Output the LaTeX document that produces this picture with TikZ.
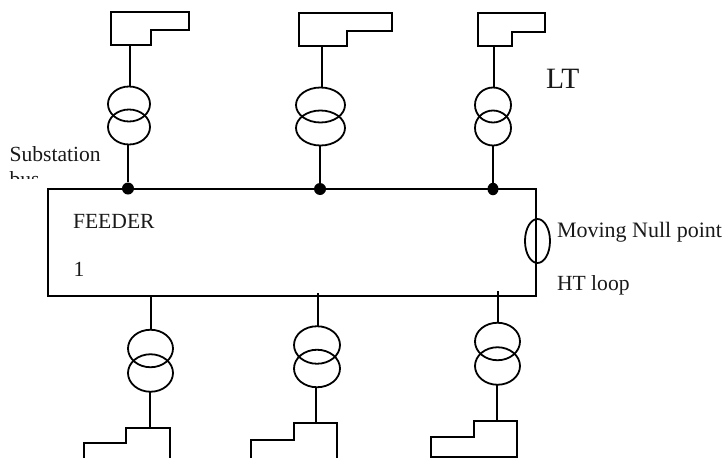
\documentclass[tikz,border=0pt]{standalone}
\usepackage{fontspec}
\setmainfont{Liberation Serif}
\usetikzlibrary{shapes.geometric}
\tikzset{
  x=1pt,y=-1pt,
  wire/.style={line width=1.9pt,line join=miter},
  coil/.style={ellipse,draw,line width=1.8pt,inner sep=0pt,outer sep=0pt},
  tap/.style={circle,fill=black,draw=none,inner sep=0pt,minimum width=12pt},
  lbl/.style={anchor=base west,inner sep=0pt,outer sep=0pt,text=black!90,font=\fontsize{21.6}{24}\selectfont},
}
\begin{document}
\begin{tikzpicture}
\useasboundingbox (0,0) rectangle (726,458);
\clip (0,0) rectangle (726,458);
% feeder
\node[draw,wire,inner sep=0pt,outer sep=0pt,minimum width=488pt,minimum height=107pt] (feeder) at (292,242.5) {};
% tap dots
\node[tap] (d1) at (128,188.5) {};
\node[tap] (d2) at (320,189) {};
\node[tap,ellipse,minimum width=11pt,minimum height=12.5pt] (d3) at (493,189) {};
% top transformers
\node[coil,minimum width=42pt,minimum height=35pt] (a1) at (129,104) {};
\node[coil,minimum width=42pt,minimum height=35pt] (b1) at (129,127) {};
\node[coil,minimum width=49pt,minimum height=35pt] (a2) at (320.5,105) {};
\node[coil,minimum width=49pt,minimum height=35pt] (b2) at (320.5,128) {};
\node[coil,minimum width=36pt,minimum height=35pt] (a3) at (493,105) {};
\node[coil,minimum width=36pt,minimum height=35pt] (b3) at (493,128) {};
% bottom transformers
\node[coil,minimum width=45pt,minimum height=37.5pt] (c1) at (150.5,348.5) {};
\node[coil,minimum width=45pt,minimum height=37.5pt] (e1) at (150.5,373) {};
\node[coil,minimum width=46pt,minimum height=37.5pt] (c2) at (317,345) {};
\node[coil,minimum width=46pt,minimum height=37.5pt] (e2) at (317,368.5) {};
\node[coil,minimum width=45pt,minimum height=37.5pt] (c3) at (497.5,341.5) {};
\node[coil,minimum width=45pt,minimum height=37.5pt] (e3) at (497.5,366) {};
% null point
\node[coil,minimum width=25pt,minimum height=44pt] (np) at (537.5,241) {};
% attachment points
\coordinate (p1) at (130,45);
\coordinate (p2) at (322,46);
\coordinate (p3) at (494,46);
\coordinate (q1) at (150,428);
\coordinate (q2) at (316,423);
\coordinate (q3) at (497,421);
\coordinate (f1) at (151,296);
\coordinate (f2) at (318,293);
\coordinate (f3) at (498,291);
% top loads
\draw[wire] (111,12) -- (189,12) -- (189,30) -- (151,30) -- (151,45) -- (111,45) -- cycle;
\draw[wire] (299,13) -- (392,13) -- (392,31) -- (347,31) -- (347,46) -- (299,46) -- cycle;
\draw[wire] (478,13) -- (545,13) -- (545,32) -- (512,32) -- (512,46) -- (478,46) -- cycle;
% bottom loads
\draw[wire] (84,460) -- (84,443) -- (126,443) -- (126,428) -- (170,428) -- (170,460);
\draw[wire] (251,460) -- (251,440) -- (294,440) -- (294,423) -- (337,423) -- (337,460);
\draw[wire] (431,457) -- (431,437) -- (474,437) -- (474,421) -- (517,421) -- (517,457) -- cycle;
% connectors
\draw[wire] (p1) -- (p1 |- a1.north);
\draw[wire] (p2) -- (p2 |- a2.north);
\draw[wire] (p3) -- (p3 |- a3.north);
\draw[wire] (b1.south -| d1) -- (d1);
\draw[wire] (b2.south -| d2) -- (d2);
\draw[wire] (b3.south -| d3) -- (d3);
\draw[wire] (f1) -- (f1 |- c1.north);
\draw[wire] (f2) -- (f2 |- c2.north);
\draw[wire] (f3) -- (f3 |- c3.north);
\draw[wire] (q1 |- e1.south) -- (q1);
\draw[wire] (q2 |- e2.south) -- (q2);
\draw[wire] (q3 |- e3.south) -- (q3);
% labels
\node[lbl] (sub) at (9.5,161.5) {Substation};
\begin{scope}
\clip (0,165) rectangle (120,178);
\node[lbl] (bus) at (9.5,186.7) {bus};
\end{scope}
\node[lbl] (fd) at (73,228) {FEEDER};
\node[lbl] (one) at (73.5,276) {1};
\node[lbl,font=\fontsize{22}{24}\selectfont] (mn) at (557,237.5) {Moving Null point};
\node[lbl] (ht) at (557,290) {HT loop};
\node[lbl,font=\fontsize{29.5}{32}\selectfont] (lt) at (546,88) {LT};
\end{tikzpicture}
\end{document}
